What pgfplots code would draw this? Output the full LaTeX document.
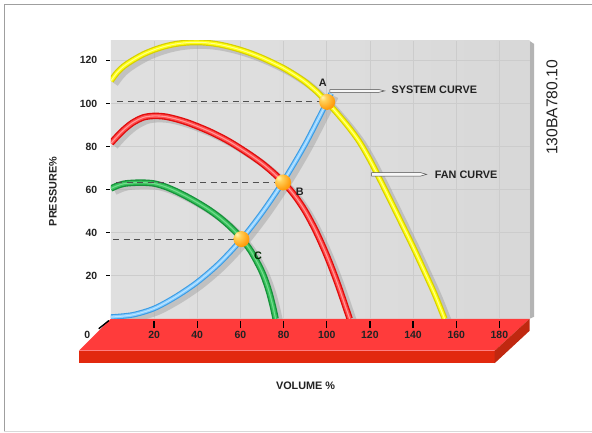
\documentclass[border=0pt]{standalone}
\usepackage{pgfplots}
\usepackage{pgfplotstable}
\pgfplotsset{compat=1.18}
\usepackage{fontspec}
\setmainfont{Liberation Sans}

\definecolor{panelside}{HTML}{B4B4B4}
\definecolor{platTop}{HTML}{FF3B3B}
\definecolor{platFront}{HTML}{E2290E}
\definecolor{platSide}{HTML}{C02810}
\definecolor{gridc}{HTML}{CCCCCC}
\definecolor{ink}{HTML}{222222}
\definecolor{dashc}{HTML}{505050}
\definecolor{shadowc}{HTML}{A4A4A4}
\definecolor{yelEdge}{HTML}{D6CE00}
\definecolor{yelCore}{HTML}{FFFF10}
\definecolor{yelHi}{HTML}{FFFF90}
\definecolor{redEdge}{HTML}{E00C0C}
\definecolor{redCore}{HTML}{FF4A4A}
\definecolor{redHi}{HTML}{FF9A9A}
\definecolor{grnEdge}{HTML}{15923A}
\definecolor{grnCore}{HTML}{38C25C}
\definecolor{grnHi}{HTML}{74DA8E}
\definecolor{bluEdge}{HTML}{3A9CE4}
\definecolor{bluCore}{HTML}{88CCFF}
\definecolor{bluHi}{HTML}{BDE6FF}

% back wall: light grey, darkening towards the right
\pgfdeclarehorizontalshading{panelshade}{100bp}{%
  rgb(0bp)=(0.885,0.885,0.885); rgb(55bp)=(0.865,0.865,0.865);
  rgb(85bp)=(0.835,0.835,0.835); rgb(100bp)=(0.79,0.79,0.79)}
% glossy orange ball for the operating points
\pgfdeclareradialshading{orangeball}{\pgfpoint{-15bp}{15bp}}{%
  rgb(0bp)=(1,0.96,0.70); rgb(10bp)=(1,0.82,0.35); rgb(30bp)=(1,0.62,0.06);
  rgb(52bp)=(0.92,0.46,0.0); rgb(72bp)=(0.78,0.36,0.0)}
\pgfdeclareplotmark{oball}{%
  \pgfpathcircle{\pgfpointorigin}{\pgfplotmarksize}%
  \pgfshadepath{orangeball}{0}%
  \pgfusepath{discard}}

% fan curves at three speeds and the system curve (volume %, pressure %)
\pgfplotstableread{
x y
0 110.5
3 114.5
6 117.3
10 120
15 122.8
20 124.9
25 126.5
30 127.6
35 128.2
40 128.4
45 128.1
50 127.4
55 126.3
60 124.9
65 123.2
70 121.2
75 118.9
80 116.4
85 113.4
90 110
95 105.8
100 100.8
105 95.2
110 89.2
115 82.4
120 73.8
125 64
130 53.9
135 43.7
140 33.4
145 22.6
150 11.5
154.6 0
}\fanhigh
\pgfplotstableread{
x y
0 81.5
3 84.8
6 87.8
10 91
15 93.5
20 94.2
25 93.9
30 92.8
35 91.3
40 89.4
45 87.3
50 84.9
55 82.2
60 79.1
65 75.8
70 72.2
75 68.0
80 63.2
85 57.4
90 50.0
95 40.6
100 29.4
105 16.4
110.6 0
}\fanmid
\pgfplotstableread{
x y
0 60.5
3 61.8
6 62.7
10 63.1
15 63.2
20 62.8
25 61.4
30 59.3
35 56.8
40 54.0
45 50.9
50 47.3
55 43.0
60 37.9
65 31.2
70 21.8
73 13.5
75 6
76.3 0
}\fanlow
\pgfplotstableread{
x y
0 0.8
10 1.8
20 4.8
30 10.2
40 17
50 25.6
60 36.3
70 49.2
80 64
90 81
100 100.5
102 104.6
}\system
\pgfplotstableread{
x y
100.2 100.7
79.8 63.3
60.5 37.0
}\points

\begin{document}
\begin{tikzpicture}
% page, frame, back wall and floor slab (units of 1bp, y downwards)
\begin{scope}[x=1bp, y=-1bp, shift={(-111bp,319bp)}]
  \fill[white] (0,0) rectangle (592,433);
  \draw[gray!75, line width=0.9bp] (592,4.5) -- (4.5,4.5) -- (4.5,431.5);
  \draw[gray!30, line width=0.8bp] (4.5,431.5) -- (592,431.5);
  \fill[panelside] (530,41) -- (534.5,44) -- (534.5,317) -- (530,319) -- cycle;
  \shade[shading=panelshade] (111,41) rectangle (530,319);
  \fill[platTop] (111,319) -- (530,319) -- (495,351) -- (79,351) -- cycle;
  \fill[platFront] (79,351) rectangle (495,363.5);
  \fill[platSide] (530,319) -- (530,331) -- (495,363.5) -- (495,351) -- cycle;
\end{scope}

\begin{axis}[
  scale only axis, width=419bp, height=278bp,
  xmin=0, xmax=194, ymin=0, ymax=129,
  axis line style={draw=none},
  xtick={20,40,...,180}, ytick={20,40,...,120},
  grid=major, major grid style={draw=gridc, line width=0.8bp},
  major tick length=0bp,
  /pgf/number format/assume math mode=true,
  ticklabel style={font=\fontsize{10.5}{12}\selectfont\bfseries, text=ink},
  xticklabel style={anchor=center, yshift=-16bp},
  yticklabel style={anchor=east, xshift=-10.2bp},
]
% drop shadows
\addplot[smooth, draw=shadowc, opacity=0.5, line width=7bp, xshift=4bp, yshift=-3bp] table {\system};
\addplot[smooth, draw=shadowc, opacity=0.5, line width=7bp, xshift=4bp, yshift=-3bp] table {\fanlow};
\addplot[smooth, draw=shadowc, opacity=0.5, line width=7bp, xshift=4bp, yshift=-3bp] table {\fanmid};
\addplot[smooth, draw=shadowc, opacity=0.5, line width=7bp, xshift=4bp, yshift=-3bp] table {\fanhigh};
% system curve
\addplot[smooth, draw=bluEdge, line width=5.5bp,
  postaction={draw=bluCore, line width=3.3bp},
  postaction={draw=bluHi, line width=1bp}] table {\system};
% fan curves
\addplot[smooth, draw=grnEdge, line width=6.5bp,
  postaction={draw=grnCore, line width=3.8bp},
  postaction={draw=grnHi, line width=1.1bp}] table {\fanlow};
\addplot[smooth, draw=redEdge, line width=6.5bp,
  postaction={draw=redCore, line width=3.8bp},
  postaction={draw=redHi, line width=1.1bp}] table {\fanmid};
\addplot[smooth, draw=yelEdge, line width=6bp,
  postaction={draw=yelCore, line width=3.6bp},
  postaction={draw=yelHi, line width=1bp}] table {\fanhigh};
% reading lines to the pressure axis
\addplot[draw=dashc, line width=0.9bp, dash pattern=on 6bp off 4.5bp] coordinates {(3,100.7) (100.2,100.7)};
\addplot[draw=dashc, line width=0.9bp, dash pattern=on 6bp off 4.5bp] coordinates {(2.5,63.3) (79.8,63.3)};
\addplot[draw=dashc, line width=0.9bp, dash pattern=on 6bp off 4.5bp] coordinates {(1,37.0) (60.5,37.0)};
% operating points
\addplot[only marks, mark=oball, mark size=8bp] table {\points};
\end{axis}

% ticks, labels and call-outs (units of 1bp, y downwards)
\begin{scope}[x=1bp, y=-1bp, shift={(-111bp,319bp)}]
  \foreach \tickpos in {154.2,197.4,240.6,283.8,327.0,370.2,413.4,456.6,499.8}
    \draw[black, line width=1.4bp] (\tickpos,321) -- (\tickpos,328);
  \foreach \tickpos in {275.9,232.8,189.7,146.6,103.5,60.4}
    \draw[black, line width=1.2bp] (106.5,\tickpos) -- (110.5,\tickpos);
  \draw[black, line width=1.4bp] (98.8,329) -- (109,320.8);
\end{scope}
\begin{scope}[x=1bp, y=-1bp, shift={(-111bp,319bp)},
  font=\bfseries\fontsize{10.9}{13}\selectfont, text=ink]
  \node at (87.3,335) {\fontsize{10.5}{12}\selectfont 0};
  \filldraw[fill=gray!6, draw=gray!60!black, line width=0.5bp]
    (330,89.6) -- (379,89.6) -- (385,91) -- (379,92.4) -- (330,92.4) -- cycle;
  \filldraw[fill=gray!6, draw=gray!60!black, line width=0.5bp]
    (372,172.8) -- (421,172.8) -- (427,174.5) -- (421,176.2) -- (372,176.2) -- cycle;
  \node[anchor=west, inner sep=0] at (391.7,90.3) {SYSTEM CURVE};
  \node[anchor=west, inner sep=0] at (435,174.5) {FAN CURVE};
  \node at (323,82.7) {A};
  \node at (300,191.7) {B};
  \node[text=black!75!green!60!black] at (258.3,255.7) {C};
  \node[rotate=90] at (53,191.7) {PRESSURE\%};
  \node at (305.8,385.8) {VOLUME \%};
  \node[rotate=90, font=\mdseries\fontsize{15.7}{18}\selectfont] at (552.5,107.5) {130BA780.10};
\end{scope}
\end{tikzpicture}
\end{document}
